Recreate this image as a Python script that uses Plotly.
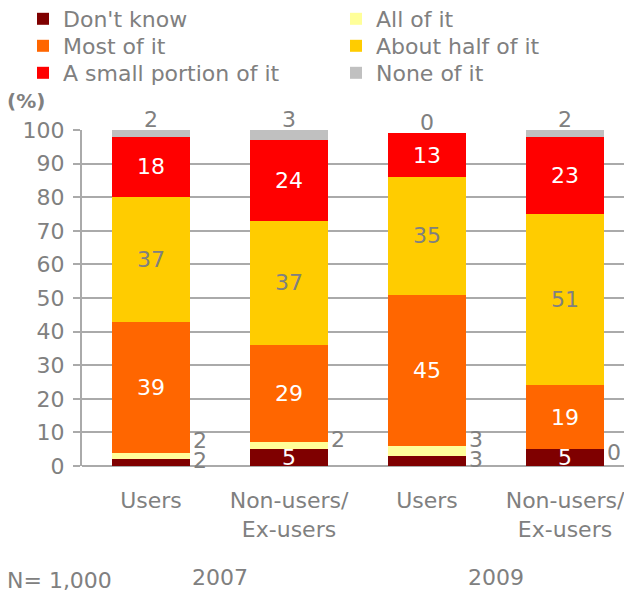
import plotly.graph_objects as go

categories = ["Users", "Non-users/<br>Ex-users", "Users", "Non-users/<br>Ex-users"]
years = ["2007", "2009"]
series_names = ["Don't know", "All of it", "Most of it", "About half of it",
                "A small portion of it", "None of it"]
dont_know = [2, 5, 3, 5]
all_of_it = [2, 2, 3, 0]
most_of_it = [39, 29, 45, 19]
about_half = [37, 37, 35, 51]
small_portion = [18, 24, 13, 23]
none_of_it = [2, 3, 0, 2]
y_ticks = [0, 10, 20, 30, 40, 50, 60, 70, 80, 90, 100]

colors = ["#7f0000", "#ffff99", "#ff6600", "#ffcc00", "#ff0000", "#c0c0c0"]
GRAY = "#808080"
GRID = "#aaaaaa"
FONT = "DejaVu Sans"
FS = 22
BAR_W = 0.565

# page has an 8px body margin; figure is sized to fill the rest
W, H = 624, 587
ML, MT, MB = 74, 122, 129
PW, PH = W - ML, H - MT - MB

x = list(range(len(categories)))
series = [dont_know, all_of_it, most_of_it, about_half, small_portion, none_of_it]

fig = go.Figure()
legend_names = ["legend", "legend2", "legend3", "legend4", "legend5", "legend6"]
for i, (name, vals, col) in enumerate(zip(series_names, series, colors)):
    if i in (2, 3, 4):
        texts = [str(v) for v in vals]
        tcol = GRAY if i == 3 else "white"
    elif i == 0:
        texts = [str(v) if v >= 4 else "" for v in vals]
        tcol = "white"
    else:
        texts = ["" for v in vals]
        tcol = "white"
    fig.add_trace(go.Bar(
        x=x, y=vals, name=name, marker=dict(color=col, line=dict(width=0)),
        width=BAR_W, text=texts, textposition="inside", insidetextanchor="middle",
        textangle=0, constraintext="none", textfont=dict(color=tcol, size=FS, family=FONT),
        hoverinfo="skip", legend=legend_names[i],
    ))

annotations = []
lab_font = dict(color=GRAY, size=FS, family=FONT)
for i in x:
    dk, al = dont_know[i], all_of_it[i]
    xr = i + BAR_W / 2
    dk_y = None
    if dk < 4:
        dk_y = dk / 2 + 0.5
        annotations.append(dict(x=xr, y=dk_y, text=str(dk), xanchor="left", yanchor="middle",
                                xshift=1, showarrow=False, font=lab_font))
    al_y = dk + 2 * al - 1.1
    if dk_y is not None and al_y - dk_y < 6:
        al_y = dk_y + 6
    annotations.append(dict(x=xr, y=al_y, text=str(al), xanchor="left", yanchor="middle",
                            xshift=1, showarrow=False, font=lab_font))
    total = sum(s[i] for s in series)
    annotations.append(dict(x=i, y=total, text=str(none_of_it[i]), xanchor="center", yanchor="bottom",
                            yshift=-4, showarrow=False, font=lab_font))

for k, yr in enumerate(years):
    annotations.append(dict(x=2 * k + 0.5, xref="x", y=-111 / PH, yref="paper", yanchor="middle",
                            text=yr, showarrow=False, font=lab_font))

annotations.append(dict(text="<b>(%)</b>", xref="paper", yref="paper", x=-77 / PW, y=1 + 29 / PH,
                        xanchor="left", yanchor="middle", showarrow=False,
                        font=dict(color=GRAY, size=20, family=FONT)))
annotations.append(dict(text="N= 1,000", xref="paper", yref="paper", x=-77 / PW, y=-114 / PH,
                        xanchor="left", yanchor="middle", showarrow=False,
                        font=dict(color=GRAY, size=22, family=FONT)))

legends = {}
col_x = [15 / W, 328 / W]
row_y = [11, 38, 65]
for i, ln in enumerate(legend_names):
    r, c = i // 2, i % 2
    legends[ln] = dict(orientation="v", xref="container", yref="container",
                       x=col_x[c], y=1 - row_y[r] / H, xanchor="left", yanchor="middle",
                       font=dict(size=FS, color=GRAY, family=FONT),
                       bgcolor="rgba(0,0,0,0)", itemclick=False)

fig.update_layout(
    width=W, height=H,
    margin=dict(l=ML, r=0, t=MT, b=MB, autoexpand=False),
    barmode="stack",
    paper_bgcolor="white", plot_bgcolor="white",
    font=dict(family=FONT, size=FS, color=GRAY),
    showlegend=True,
    **legends,
    xaxis=dict(range=[-0.5, -0.5 + PW / 138], tickmode="array", tickvals=x, ticktext=categories,
               showgrid=False, showline=False, ticks="", zeroline=False,
               tickfont=lab_font, ticklabelstandoff=19),
    yaxis=dict(range=[0, 100], tickmode="array", tickvals=y_ticks, showgrid=True,
               gridcolor=GRID, gridwidth=2, showline=True, linecolor=GRID, linewidth=2,
               ticks="outside", ticklen=7, tickcolor=GRID, tickwidth=2,
               zeroline=True, zerolinecolor=GRID, zerolinewidth=2,
               tickfont=lab_font, ticklabelstandoff=4),
    annotations=annotations,
)

fig.write_html("out.html")
